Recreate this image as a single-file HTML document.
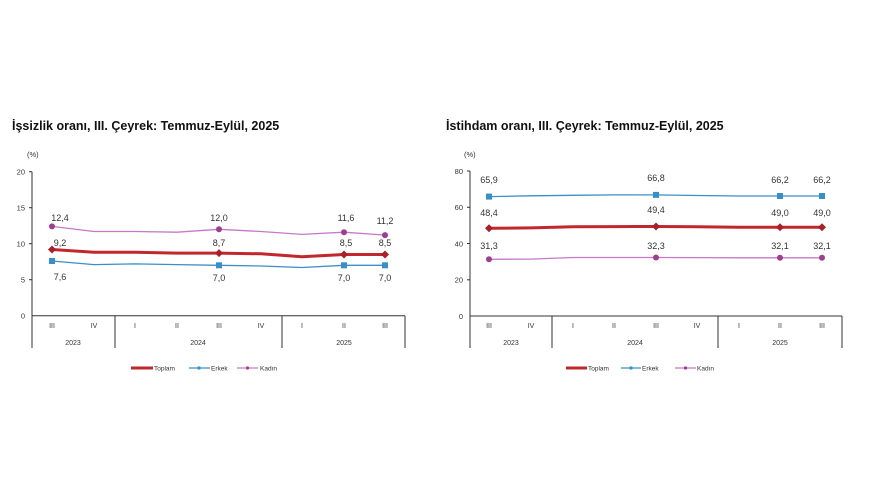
<!DOCTYPE html>
<html><head><meta charset="utf-8"><style>
body{margin:0;background:#fff;}
svg{display:block;font-family:"Liberation Sans",sans-serif;}
</style></head><body>
<svg width="880" height="495" viewBox="0 0 880 495" xmlns="http://www.w3.org/2000/svg">
<rect width="880" height="495" fill="#fff"/>
<!-- LEFT CHART -->
<text x="12" y="130" font-size="12.5" font-weight="bold" fill="#111">İşsizlik oranı, III. Çeyrek: Temmuz-Eylül, 2025</text>
<text x="27" y="157" font-size="7.5" fill="#333">(%)</text>
<g stroke="#333" stroke-width="1" fill="none">
<line x1="32" y1="171.7" x2="32" y2="348"/>
<line x1="32" y1="315.7" x2="405" y2="315.7"/>
<line x1="115" y1="315.7" x2="115" y2="348"/>
<line x1="282" y1="315.7" x2="282" y2="348"/>
<line x1="405" y1="315.7" x2="405" y2="348"/>
<line x1="29" y1="171.7" x2="32" y2="171.7"/><line x1="29" y1="207.7" x2="32" y2="207.7"/><line x1="29" y1="243.7" x2="32" y2="243.7"/><line x1="29" y1="279.7" x2="32" y2="279.7"/>
</g>
<g font-size="7.5" fill="#333" text-anchor="end">
<text x="25" y="174.5">20</text><text x="25" y="210.5">15</text><text x="25" y="246.5">10</text><text x="25" y="282.5">5</text><text x="25" y="318.5">0</text>
</g>
<g font-size="7" fill="#333" text-anchor="middle">
<text x="52" y="328">III</text><text x="94" y="328">IV</text><text x="135" y="328">I</text><text x="177" y="328">II</text><text x="219" y="328">III</text><text x="261" y="328">IV</text><text x="302" y="328">I</text><text x="344" y="328">II</text><text x="385" y="328">III</text>
<text x="73" y="345">2023</text><text x="198" y="345">2024</text><text x="344" y="345">2025</text>
</g>
<polyline fill="none" stroke="#c878c8" stroke-width="1.3" points="52,226.4 94,231.5 135,231.5 177,232.2 219,229.3 261,231.5 302,234.4 344,232.2 385,235.1"/>
<polyline fill="none" stroke="#c0282d" stroke-width="3" points="52,249.5 94,252.3 135,252.3 177,253.1 219,253.1 261,253.8 302,256.7 344,254.5 385,254.5"/>
<polyline fill="none" stroke="#3a8fc6" stroke-width="1.3" points="52,261 94,264.6 135,263.9 177,264.6 219,265.3 261,266 302,267.5 344,265.3 385,265.3"/>
<g fill="#9c3f8e"><circle cx="52" cy="226.4" r="3"/><circle cx="219" cy="229.3" r="3"/><circle cx="344" cy="232.2" r="3"/><circle cx="385" cy="235.1" r="3"/></g>
<g fill="#a8202a"><path d="M52 245.5l4 4-4 4-4-4z"/><path d="M219 249.1l4 4-4 4-4-4z"/><path d="M344 250.5l4 4-4 4-4-4z"/><path d="M385 250.5l4 4-4 4-4-4z"/></g>
<g fill="#3a8fc6"><rect x="49" y="258" width="6" height="6"/><rect x="216" y="262.3" width="6" height="6"/><rect x="341" y="262.3" width="6" height="6"/><rect x="382" y="262.3" width="6" height="6"/></g>
<g font-size="9" fill="#333" text-anchor="middle">
<text x="60" y="221">12,4</text><text x="219" y="221">12,0</text><text x="346" y="221">11,6</text><text x="385" y="224">11,2</text>
<text x="60" y="246">9,2</text><text x="219" y="246">8,7</text><text x="346" y="246">8,5</text><text x="385" y="246">8,5</text>
<text x="60" y="280">7,6</text><text x="219" y="281">7,0</text><text x="344" y="281">7,0</text><text x="385" y="281">7,0</text>
</g>
<g font-size="6.5" fill="#333">
<line x1="131" y1="368" x2="153" y2="368" stroke="#c0282d" stroke-width="3"/><text x="154" y="370.5">Toplam</text>
<line x1="189" y1="368" x2="210" y2="368" stroke="#3a8fc6" stroke-width="1.3"/><rect x="197.5" y="366.5" width="3" height="3" fill="#3a8fc6"/><text x="211" y="370.5">Erkek</text>
<line x1="237" y1="368" x2="258" y2="368" stroke="#c878c8" stroke-width="1.3"/><circle cx="247.5" cy="368" r="1.6" fill="#9c3f8e"/><text x="260" y="370.5">Kadın</text>
</g>

<!-- RIGHT CHART -->
<text x="446" y="130" font-size="12.5" font-weight="bold" fill="#111">İstihdam oranı, III. Çeyrek: Temmuz-Eylül, 2025</text>
<text x="464" y="157" font-size="7.5" fill="#333">(%)</text>
<g stroke="#333" stroke-width="1" fill="none">
<line x1="470" y1="171" x2="470" y2="348"/>
<line x1="470" y1="316" x2="842" y2="316"/>
<line x1="552" y1="316" x2="552" y2="348"/>
<line x1="718" y1="316" x2="718" y2="348"/>
<line x1="842" y1="316" x2="842" y2="348"/>
<line x1="467" y1="171" x2="470" y2="171"/><line x1="467" y1="207.3" x2="470" y2="207.3"/><line x1="467" y1="243.5" x2="470" y2="243.5"/><line x1="467" y1="279.8" x2="470" y2="279.8"/>
</g>
<g font-size="7.5" fill="#333" text-anchor="end">
<text x="463" y="174">80</text><text x="463" y="210">60</text><text x="463" y="246.5">40</text><text x="463" y="282.5">20</text><text x="463" y="319">0</text>
</g>
<g font-size="7" fill="#333" text-anchor="middle">
<text x="489" y="328">III</text><text x="531" y="328">IV</text><text x="573" y="328">I</text><text x="614" y="328">II</text><text x="656" y="328">III</text><text x="697" y="328">IV</text><text x="739" y="328">I</text><text x="780" y="328">II</text><text x="822" y="328">III</text>
<text x="511" y="345">2023</text><text x="635" y="345">2024</text><text x="780" y="345">2025</text>
</g>
<polyline fill="none" stroke="#3a8fc6" stroke-width="1.3" points="489,196.6 531,195.8 573,195.3 614,194.9 656,194.9 697,195.5 739,196 780,196 822,196"/>
<polyline fill="none" stroke="#c0282d" stroke-width="3" points="489,228.3 531,227.9 573,226.8 614,226.6 656,226.5 697,226.8 739,227.2 780,227.2 822,227.2"/>
<polyline fill="none" stroke="#c878c8" stroke-width="1.3" points="489,259.3 531,259.1 573,257.5 614,257.5 656,257.5 697,257.6 739,257.8 780,257.8 822,257.8"/>
<g fill="#3a8fc6"><rect x="486" y="193.6" width="6" height="6"/><rect x="653" y="191.9" width="6" height="6"/><rect x="777" y="193" width="6" height="6"/><rect x="819" y="193" width="6" height="6"/></g>
<g fill="#a8202a"><path d="M489 224.3l4 4-4 4-4-4z"/><path d="M656 222.5l4 4-4 4-4-4z"/><path d="M780 223.2l4 4-4 4-4-4z"/><path d="M822 223.2l4 4-4 4-4-4z"/></g>
<g fill="#9c3f8e"><circle cx="489" cy="259.3" r="3"/><circle cx="656" cy="257.5" r="3"/><circle cx="780" cy="257.8" r="3"/><circle cx="822" cy="257.8" r="3"/></g>
<g font-size="9" fill="#333" text-anchor="middle">
<text x="489" y="183">65,9</text><text x="656" y="181">66,8</text><text x="780" y="183">66,2</text><text x="822" y="183">66,2</text>
<text x="489" y="216">48,4</text><text x="656" y="213">49,4</text><text x="780" y="216">49,0</text><text x="822" y="216">49,0</text>
<text x="489" y="249">31,3</text><text x="656" y="249">32,3</text><text x="780" y="249">32,1</text><text x="822" y="249">32,1</text>
</g>
<g font-size="6.5" fill="#333">
<line x1="566" y1="368" x2="587" y2="368" stroke="#c0282d" stroke-width="3"/><text x="588" y="370.5">Toplam</text>
<line x1="621" y1="368" x2="641" y2="368" stroke="#3a8fc6" stroke-width="1.3"/><rect x="629.5" y="366.5" width="3" height="3" fill="#3a8fc6"/><text x="642" y="370.5">Erkek</text>
<line x1="675" y1="368" x2="696" y2="368" stroke="#c878c8" stroke-width="1.3"/><circle cx="685.5" cy="368" r="1.6" fill="#9c3f8e"/><text x="697" y="370.5">Kadın</text>
</g>
</svg>
</body></html>
